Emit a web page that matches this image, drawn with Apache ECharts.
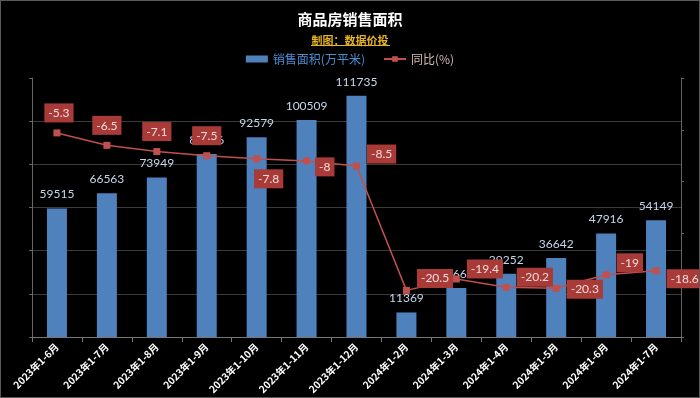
<!DOCTYPE html>
<html>
<head>
<meta charset="utf-8">
<script src="https://cdn.jsdelivr.net/npm/echarts@6/dist/echarts.min.js"></script>
<style>
html,body{margin:0;padding:0;background:#000;}
#main{width:698px;height:396px;border:1px solid #5a5a5a;}
</style>
</head>
<body>
<div id="main"></div>
<script>
// 月份
var months = ['2023年1-6月','2023年1-7月','2023年1-8月','2023年1-9月','2023年1-10月','2023年1-11月','2023年1-12月',
	'2024年1-2月','2024年1-3月','2024年1-4月','2024年1-5月','2024年1-6月','2024年1-7月'];
// 销售面积(万平米)
var areaData = [59515,66563,73949,84806,92579,100509,111735,11369,22668,29252,36642,47916,54149];
// 同比(%)
var yoyData = [-5.3,-6.5,-7.1,-7.5,-7.8,-8,-8.5,-20.5,-19.4,-20.2,-20.3,-19,-18.6];
// 标签位置
var yoyLabelPos = ['top','top','top','top','bottom','right','right','right','right','right','right','right','right'];
var yoyLabelOff = [[2,-2],[0,-2],[0,-2],[0,-2],[12,2],[0,6],[2,-12],[2,-12],[2,-10],[2,-10],[2,1],[2,-12],[2,8]];

var yoySeries = [];
for(var i=0;i<yoyData.length;i++){
	yoySeries.push({
		value: yoyData[i],
		label: {position: yoyLabelPos[i], offset: yoyLabelOff[i]}
	});
}

var chart = echarts.init(document.getElementById('main'));
var gridColors = ['#3a3a3a','#3a3a3a','#3a3a3a','#3a3a3a','#3a3a3a','#3a3a3a','rgba(0,0,0,0)'];
var option = {
	backgroundColor: '#000',
	animation: false,
	title: [{
		text: '商品房销售面积',
		left: 'center',
		top: 6,
		textStyle: {color:'#fff', fontSize:15, fontWeight:'bold', fontFamily:'Noto Sans CJK SC'}
	},{
		text: '制图：数据价投',
		left: 'center',
		top: 29,
		textStyle: {color:'#e6b422', fontSize:11, fontWeight:'bold', fontFamily:'Noto Sans CJK SC'}
	}],
	graphic: [{
		type: 'line',
		shape: {x1: 310, y1: 44.5, x2: 389, y2: 44.5},
		style: {stroke: '#e6b422', lineWidth: 1}
	}],
	legend: {
		top: 47,
		left: 'center',
		itemGap: 18,
		itemWidth: 22,
		itemHeight: 7,
		data: [
			{name:'销售面积(万平米)', icon:'rect', textStyle:{color:'#4a8ed4'}},
			{name:'同比(%)', textStyle:{color:'#d9b8b8'}}
		],
		textStyle: {fontSize:12, fontFamily:'Noto Sans CJK SC'}
	},
	grid: {left:31, right:18, top:77, bottom:60},
	xAxis: {
		type: 'category',
		data: months,
		axisLine: {lineStyle:{color:'#777'}},
		axisTick: {show:true, length:5, lineStyle:{color:'#777'}},
		axisLabel: {color:'#fff', fontSize:10, fontWeight:'bold', rotate:45, interval:0, margin:8, fontFamily:'Noto Sans CJK SC'}
	},
	yAxis: [{
		type: 'value',
		min: 0,
		max: 120000,
		interval: 20000,
		axisLabel: {show:false},
		axisLine: {show:true, lineStyle:{color:'#666'}},
		axisTick: {show:true, length:3, lineStyle:{color:'#666'}},
		splitLine: {lineStyle:{color:gridColors}}
	},{
		type: 'value',
		min: -25,
		max: 0,
		interval: 5,
		position: 'right',
		axisLabel: {show:false},
		axisLine: {show:true, lineStyle:{color:'#666'}},
		axisTick: {show:true, length:3, lineStyle:{color:'#666'}},
		splitLine: {show:false}
	}],
	series: [{
		name: '销售面积(万平米)',
		type: 'bar',
		data: areaData,
		barWidth: 20,
		itemStyle: {color:'#4f81bd'},
		label: {show:true, position:'top', distance:8, color:'#c6d6ec', fontSize:12, fontFamily:'Lato'}
	},{
		name: '同比(%)',
		type: 'line',
		yAxisIndex: 1,
		data: yoySeries,
		symbol: 'rect',
		symbolSize: 7,
		lineStyle: {color:'#c0504d', width:1.5},
		itemStyle: {color:'#c0504d'},
		z: 5,
		label: {
			show: true,
			color: '#f4dcdc',
			fontSize: 12,
			fontFamily: 'Lato',
			backgroundColor: '#a83a38',
			padding: [4,4,3,4]
		}
	}]
};
chart.setOption(option);
</script>
</body>
</html>
